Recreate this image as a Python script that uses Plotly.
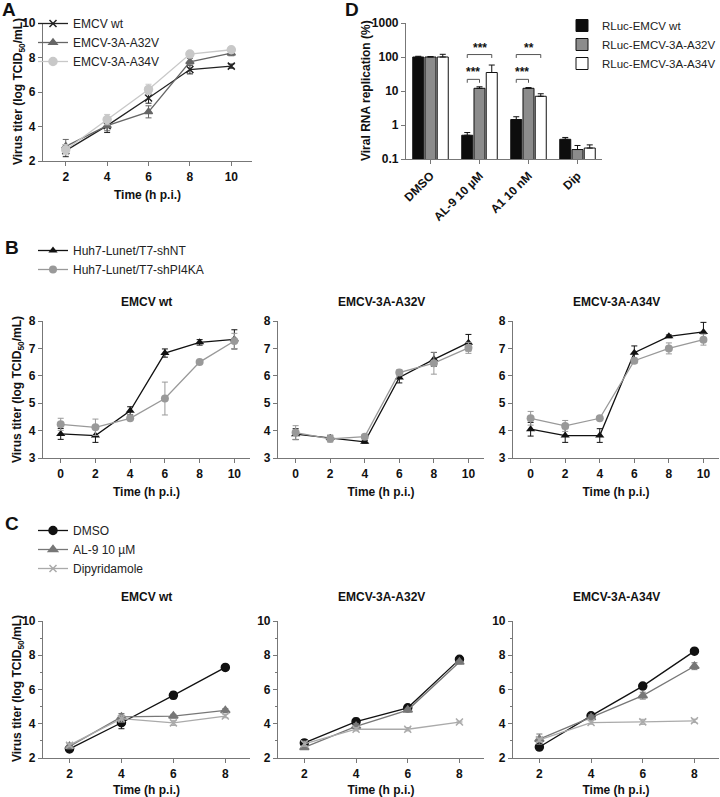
import numpy as np
import plotly.graph_objects as go

W, H = 720, 797
FONT = "Liberation Sans, Arial, sans-serif"

# ---------------- data ----------------
A_time = [2, 4, 6, 8, 10]
A_wt = [2.6, 4.05, 5.65, 7.3, 7.5]
A_wt_err = [0.35, 0.4, 0.3, 0.25, 0.12]
A_a32 = [2.85, 4.05, 4.85, 7.75, 8.25]
A_a32_err = [0.4, 0.3, 0.35, 0.2, 0.15]
A_a34 = [2.65, 4.4, 6.15, 8.2, 8.45]
A_a34_err = [0.3, 0.3, 0.3, 0.1, 0.08]

D_cats = ["DMSO", "AL-9 10 µM", "A1 10 nM", "Dip"]
D_wt = [100, 0.5, 1.45, 0.38]
D_wt_err = [5, 0.1, 0.3, 0.05]
D_a32 = [100, 12, 12, 0.19]
D_a32_err = [3, 1.3, 0.6, 0.06]
D_a34 = [100, 35, 7, 0.21]
D_a34_err = [20, 23, 1.3, 0.05]
D_sig_groups = [1, 2]
D_sig_low = ["***", "***"]      # wt vs A32V
D_sig_high = ["***", "**"]      # wt vs A34V
D_sig_low_y = 22
D_sig_high_y = 118

B_time = [0, 2, 4, 6, 8, 10]
B_titles = ["EMCV wt", "EMCV-3A-A32V", "EMCV-3A-A34V"]
B_nt = [[3.88, 3.82, 4.72, 6.83, 7.22, 7.33],
        [3.87, 3.73, 3.59, 5.94, 6.6, 7.21],
        [4.05, 3.82, 3.82, 6.84, 7.44, 7.6]]
B_nt_err = [[0.2, 0.25, 0.15, 0.15, 0.1, 0.35],
            [0.2, 0.1, 0.05, 0.2, 0.25, 0.3],
            [0.25, 0.25, 0.25, 0.25, 0.05, 0.35]]
B_pi = [[4.23, 4.12, 4.45, 5.17, 6.5, 7.27],
        [3.93, 3.70, 3.78, 6.12, 6.46, 7.02],
        [4.45, 4.17, 4.45, 6.55, 7.0, 7.32]]
B_pi_err = [[0.22, 0.3, 0.05, 0.6, 0.05, 0.28],
            [0.25, 0.12, 0.08, 0.1, 0.4, 0.2],
            [0.25, 0.2, 0.05, 0.1, 0.2, 0.2]]

C_time = [2, 4, 6, 8]
C_titles = ["EMCV wt", "EMCV-3A-A32V", "EMCV-3A-A34V"]
C_dmso = [[2.53, 4.06, 5.66, 7.29], [2.88, 4.12, 4.93, 7.76], [2.64, 4.46, 6.2, 8.24]]
C_dmso_err = [[0.1, 0.35, 0.2, 0.1], [0.2, 0.2, 0.15, 0.1], [0.05, 0.1, 0.1, 0.05]]
C_al9 = [[2.68, 4.4, 4.45, 4.78], [2.62, 3.85, 4.8, 7.6], [3.1, 4.36, 5.64, 7.36]]
C_al9_err = [[0.15, 0.2, 0.1, 0.1], [0.1, 0.15, 0.1, 0.1], [0.3, 0.15, 0.2, 0.2]]
C_dip = [[2.75, 4.3, 4.05, 4.45], [2.83, 3.68, 3.68, 4.1], [3.06, 4.07, 4.11, 4.17]]
C_dip_err = [[0.1, 0.2, 0.15, 0.1], [0.15, 0.1, 0.1, 0.05], [0.1, 0.1, 0.15, 0.1]]


def dx(a, b):
    return [a / W, b / W]


def dy(top, bottom):
    return [1 - bottom / H, 1 - top / H]


fig = go.Figure()

AX = dict(showline=True, linecolor="#777", linewidth=1.2, ticks="outside", ticklen=4,
          tickcolor="#777", showgrid=False, zeroline=False, automargin=False,
          tickfont=dict(family=FONT, size=12, color="#111", weight="bold"))
TTL = dict(family=FONT, size=12, color="#111", weight="bold")
YTITLE = "Virus titer (log TCID<sub>50</sub>/mL)"

annos = []
shapes = []


def paper_text(text, px, py, font=TTL, angle=0):
    annos.append(dict(x=px / W, y=1 - py / H, xref="paper", yref="paper", text=text, showarrow=False,
                      xanchor="center", yanchor="middle", textangle=angle, font=font))


def err(a, color):
    return dict(type="data", array=a, visible=True, color=color, thickness=1, width=3)


# ---------------- Panel A ----------------
A_series = [("EMCV wt", A_wt, A_wt_err, "#222", "x-thin-open", 7),
            ("EMCV-3A-A32V", A_a32, A_a32_err, "#666", "triangle-up", 7),
            ("EMCV-3A-A34V", A_a34, A_a34_err, "#c8c8c8", "circle", 8)]
for name, y, e, c, sym, sz in A_series:
    fig.add_trace(go.Scatter(x=A_time, y=y, error_y=err(e, c), name=name, mode="lines+markers",
                             line=dict(color=c, width=1.3),
                             marker=dict(color=c, symbol=sym, size=sz, line=dict(color=c, width=1.5)),
                             xaxis="x", yaxis="y", legend="legend"))
fig.update_layout(
    xaxis=dict(AX, domain=dx(43, 252), range=[0.9, 11], tickvals=A_time, anchor="y",
               title=dict(text="Time (h p.i.)", font=TTL, standoff=8)),
    yaxis=dict(AX, domain=dy(23, 161), range=[2, 10], tickvals=[2, 4, 6, 8, 10], anchor="x"),
)
paper_text(YTITLE, 19, 92, angle=-90)

# ---------------- Panel D ----------------
D_series = [("RLuc-EMCV wt", D_wt, D_wt_err, "#0d0d0d"),
            ("RLuc-EMCV-3A-A32V", D_a32, D_a32_err, "#8c8c8c"),
            ("RLuc-EMCV-3A-A34V", D_a34, D_a34_err, "#ffffff")]
for name, y, e, c in D_series:
    fig.add_trace(go.Bar(x=D_cats, y=y, name=name, marker=dict(color=c, line=dict(color="#111", width=1)),
                         error_y=dict(type="data", array=e, arrayminus=[0] * len(e), symmetric=False,
                                      color="#111", thickness=1, width=3),
                         xaxis="x2", yaxis="y2", legend="legend2"))
bargap, groupgap = 0.25, 0.1
fig.update_layout(
    barmode="group", bargap=bargap, bargroupgap=groupgap,
    xaxis2=dict(AX, domain=dx(406, 602), type="category", anchor="y2", tickangle=-45, ticklen=4),
    yaxis2=dict(AX, domain=dy(23, 159), type="log", range=[-1, 3], anchor="x2",
                tickvals=[0.1, 1, 10, 100, 1000], ticktext=["0.1", "1", "10", "100", "1000"]),
)
paper_text("Viral RNA replication (%)", 366, 91, angle=-90)
slot = (1 - bargap) / 3


def bar_center(g, k):
    return g - (1 - bargap) / 2 + slot * (k + 0.5)


for g, lo_txt, hi_txt in zip(D_sig_groups, D_sig_low, D_sig_high):
    for k2, yv, txt in [(1, D_sig_low_y, lo_txt), (2, D_sig_high_y, hi_txt)]:
        x0, x1 = bar_center(g, 0), bar_center(g, k2)
        ytop = yv
        ybot = yv / 10 ** 0.1
        shapes.append(dict(type="path", xref="x2", yref="y2",
                           path=f"M {x0} {ybot} L {x0} {ytop} L {x1} {ytop} L {x1} {ybot}",
                           line=dict(color="#555", width=1)))
        annos.append(dict(x=(x0 + x1) / 2, y=np.log10(yv), xref="x2", yref="y2", text=txt, showarrow=False,
                          xanchor="center", yanchor="bottom", yshift=-2,
                          font=dict(family=FONT, size=12, color="#111", weight="bold")))

# ---------------- Panel B ----------------
B_x = [(43, 250), (278, 484), (513, 719)]
for i in range(3):
    xa = f"x{3 + i}"
    ya = f"y{3 + i}"
    fig.add_trace(go.Scatter(x=B_time, y=B_nt[i], error_y=err(B_nt_err[i], "#111"), name="Huh7-Lunet/T7-shNT",
                             mode="lines+markers", line=dict(color="#111", width=1.3),
                             marker=dict(color="#111", symbol="triangle-up", size=8),
                             xaxis=xa, yaxis=ya, legend="legend3", showlegend=(i == 0)))
    fig.add_trace(go.Scatter(x=B_time, y=B_pi[i], error_y=err(B_pi_err[i], "#999"), name="Huh7-Lunet/T7-shPI4KA",
                             mode="lines+markers", line=dict(color="#999", width=1.3),
                             marker=dict(color="#999", symbol="circle", size=8),
                             xaxis=xa, yaxis=ya, legend="legend3", showlegend=(i == 0)))
    fig.update_layout(**{
        f"xaxis{3 + i}": dict(AX, domain=dx(*B_x[i]), range=[-1.02, 10.9], tickvals=B_time, anchor=ya,
                              title=dict(text="Time (h p.i.)", font=TTL, standoff=8)),
        f"yaxis{3 + i}": dict(AX, domain=dy(321, 458), range=[3, 8], dtick=1, anchor=xa),
    })
    paper_text(B_titles[i], sum(B_x[i]) / 2, 302)
paper_text(YTITLE, 18, 390, angle=-90)

# ---------------- Panel C ----------------
for i in range(3):
    xa = f"x{6 + i}"
    ya = f"y{6 + i}"
    for name, ys, es, c, sym, sz in [("DMSO", C_dmso, C_dmso_err, "#111", "circle", 8),
                                     ("AL-9 10 µM", C_al9, C_al9_err, "#777", "triangle-up", 8),
                                     ("Dipyridamole", C_dip, C_dip_err, "#aaa", "x-thin-open", 7)]:
        fig.add_trace(go.Scatter(x=C_time, y=ys[i], error_y=err(es[i], c), name=name, mode="lines+markers",
                                 line=dict(color=c, width=1.3),
                                 marker=dict(color=c, symbol=sym, size=sz, line=dict(color=c, width=1.5)),
                                 xaxis=xa, yaxis=ya, legend="legend4", showlegend=(i == 0)))
    fig.update_layout(**{
        f"xaxis{6 + i}": dict(AX, domain=dx(*B_x[i]), range=[0.98, 8.95], tickvals=C_time, anchor=ya,
                              title=dict(text="Time (h p.i.)", font=TTL, standoff=8)),
        f"yaxis{6 + i}": dict(AX, domain=dy(621, 758), range=[2, 10], dtick=2, anchor=xa,
                              minor=dict(dtick=1, ticks="outside", ticklen=2, tickcolor="#777")),
    })
    paper_text(C_titles[i], sum(B_x[i]) / 2, 597)
paper_text(YTITLE, 18, 689, angle=-90)

# panel letters
LETTER = dict(family=FONT, size=19, color="#111", weight="bold")
for txt, px, py in [("A", 9, 10), ("D", 352, 10), ("B", 12, 247), ("C", 12, 523)]:
    paper_text(txt, px, py, font=LETTER)

LEG = dict(font=dict(family=FONT, size=12, color="#222"), bgcolor="rgba(0,0,0,0)",
           xanchor="left", yanchor="top", itemwidth=30, tracegroupgap=0)
fig.update_layout(
    width=W, height=H, margin=dict(l=0, r=0, t=0, b=0, autoexpand=False),
    paper_bgcolor="white", plot_bgcolor="white",
    font=dict(family=FONT, size=12, color="#111"),
    shapes=shapes, annotations=annos,
    legend=dict(LEG, x=33 / W, y=1 - 9 / H),
    legend2=dict(LEG, x=562 / W, y=1 - 11 / H, font=dict(family=FONT, size=11.5, color="#222")),
    legend3=dict(LEG, x=33 / W, y=1 - 236 / H),
    legend4=dict(LEG, x=33 / W, y=1 - 516 / H),
)

fig.write_html("out.html", config={"displayModeBar": False},
               post_script="document.body.style.margin='0px';")
